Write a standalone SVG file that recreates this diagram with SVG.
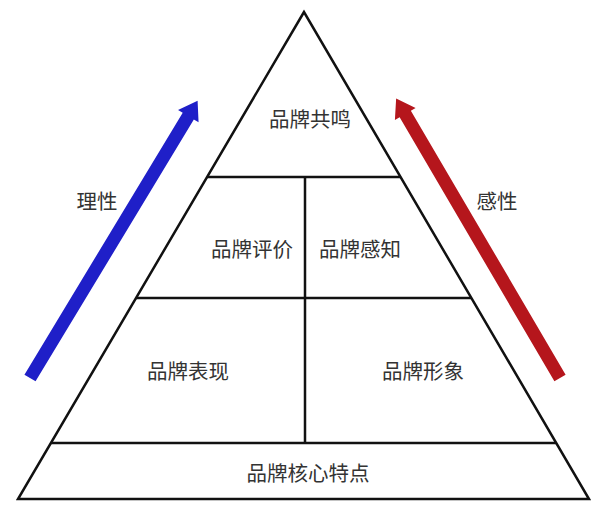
<svg xmlns="http://www.w3.org/2000/svg" width="600" height="509" viewBox="0 0 600 509">
<style>
.t{font-family:"Noto Sans CJK SC","Noto Sans",sans-serif;font-size:20.5px;fill:#333;text-anchor:middle;dominant-baseline:central}
.ln{stroke:#111;stroke-width:2.5;fill:none;stroke-linejoin:miter}
</style>
<defs>
<polygon id="arr" points="0,-6.5 306,-6.5 306,-12 324,0 306,12 306,6.5 0,6.5"/>
</defs>
<rect width="600" height="509" fill="#fff"/>
<g id="pyramid">
<polygon class="ln" points="304,12 18,499 589,499"/>
</g>
<g id="connectors">
<line class="ln" x1="207" y1="177" x2="401" y2="177"/>
<line class="ln" x1="136" y1="298" x2="471" y2="298"/>
<line class="ln" x1="51" y1="443" x2="556" y2="443"/>
<line class="ln" x1="305" y1="177" x2="305" y2="443"/>
</g>
<g id="arrow-rational">
<use href="#arr" fill="#1f1fc8" transform="translate(30,378) rotate(-58.85)"/>
<text class="t" x="97" y="200">理性</text>
</g>
<g id="arrow-emotional">
<use href="#arr" fill="#b5161c" transform="translate(560,378) rotate(-120.38)"/>
<text class="t" x="497" y="200">感性</text>
</g>
<g id="node-resonance"><text class="t" x="310" y="118">品牌共鸣</text></g>
<g id="node-judgement"><text class="t" x="252" y="248">品牌评价</text></g>
<g id="node-feelings"><text class="t" x="360" y="248">品牌感知</text></g>
<g id="node-performance"><text class="t" x="188" y="370">品牌表现</text></g>
<g id="node-imagery"><text class="t" x="423" y="370">品牌形象</text></g>
<g id="node-salience"><text class="t" x="308" y="472">品牌核心特点</text></g>
</svg>
